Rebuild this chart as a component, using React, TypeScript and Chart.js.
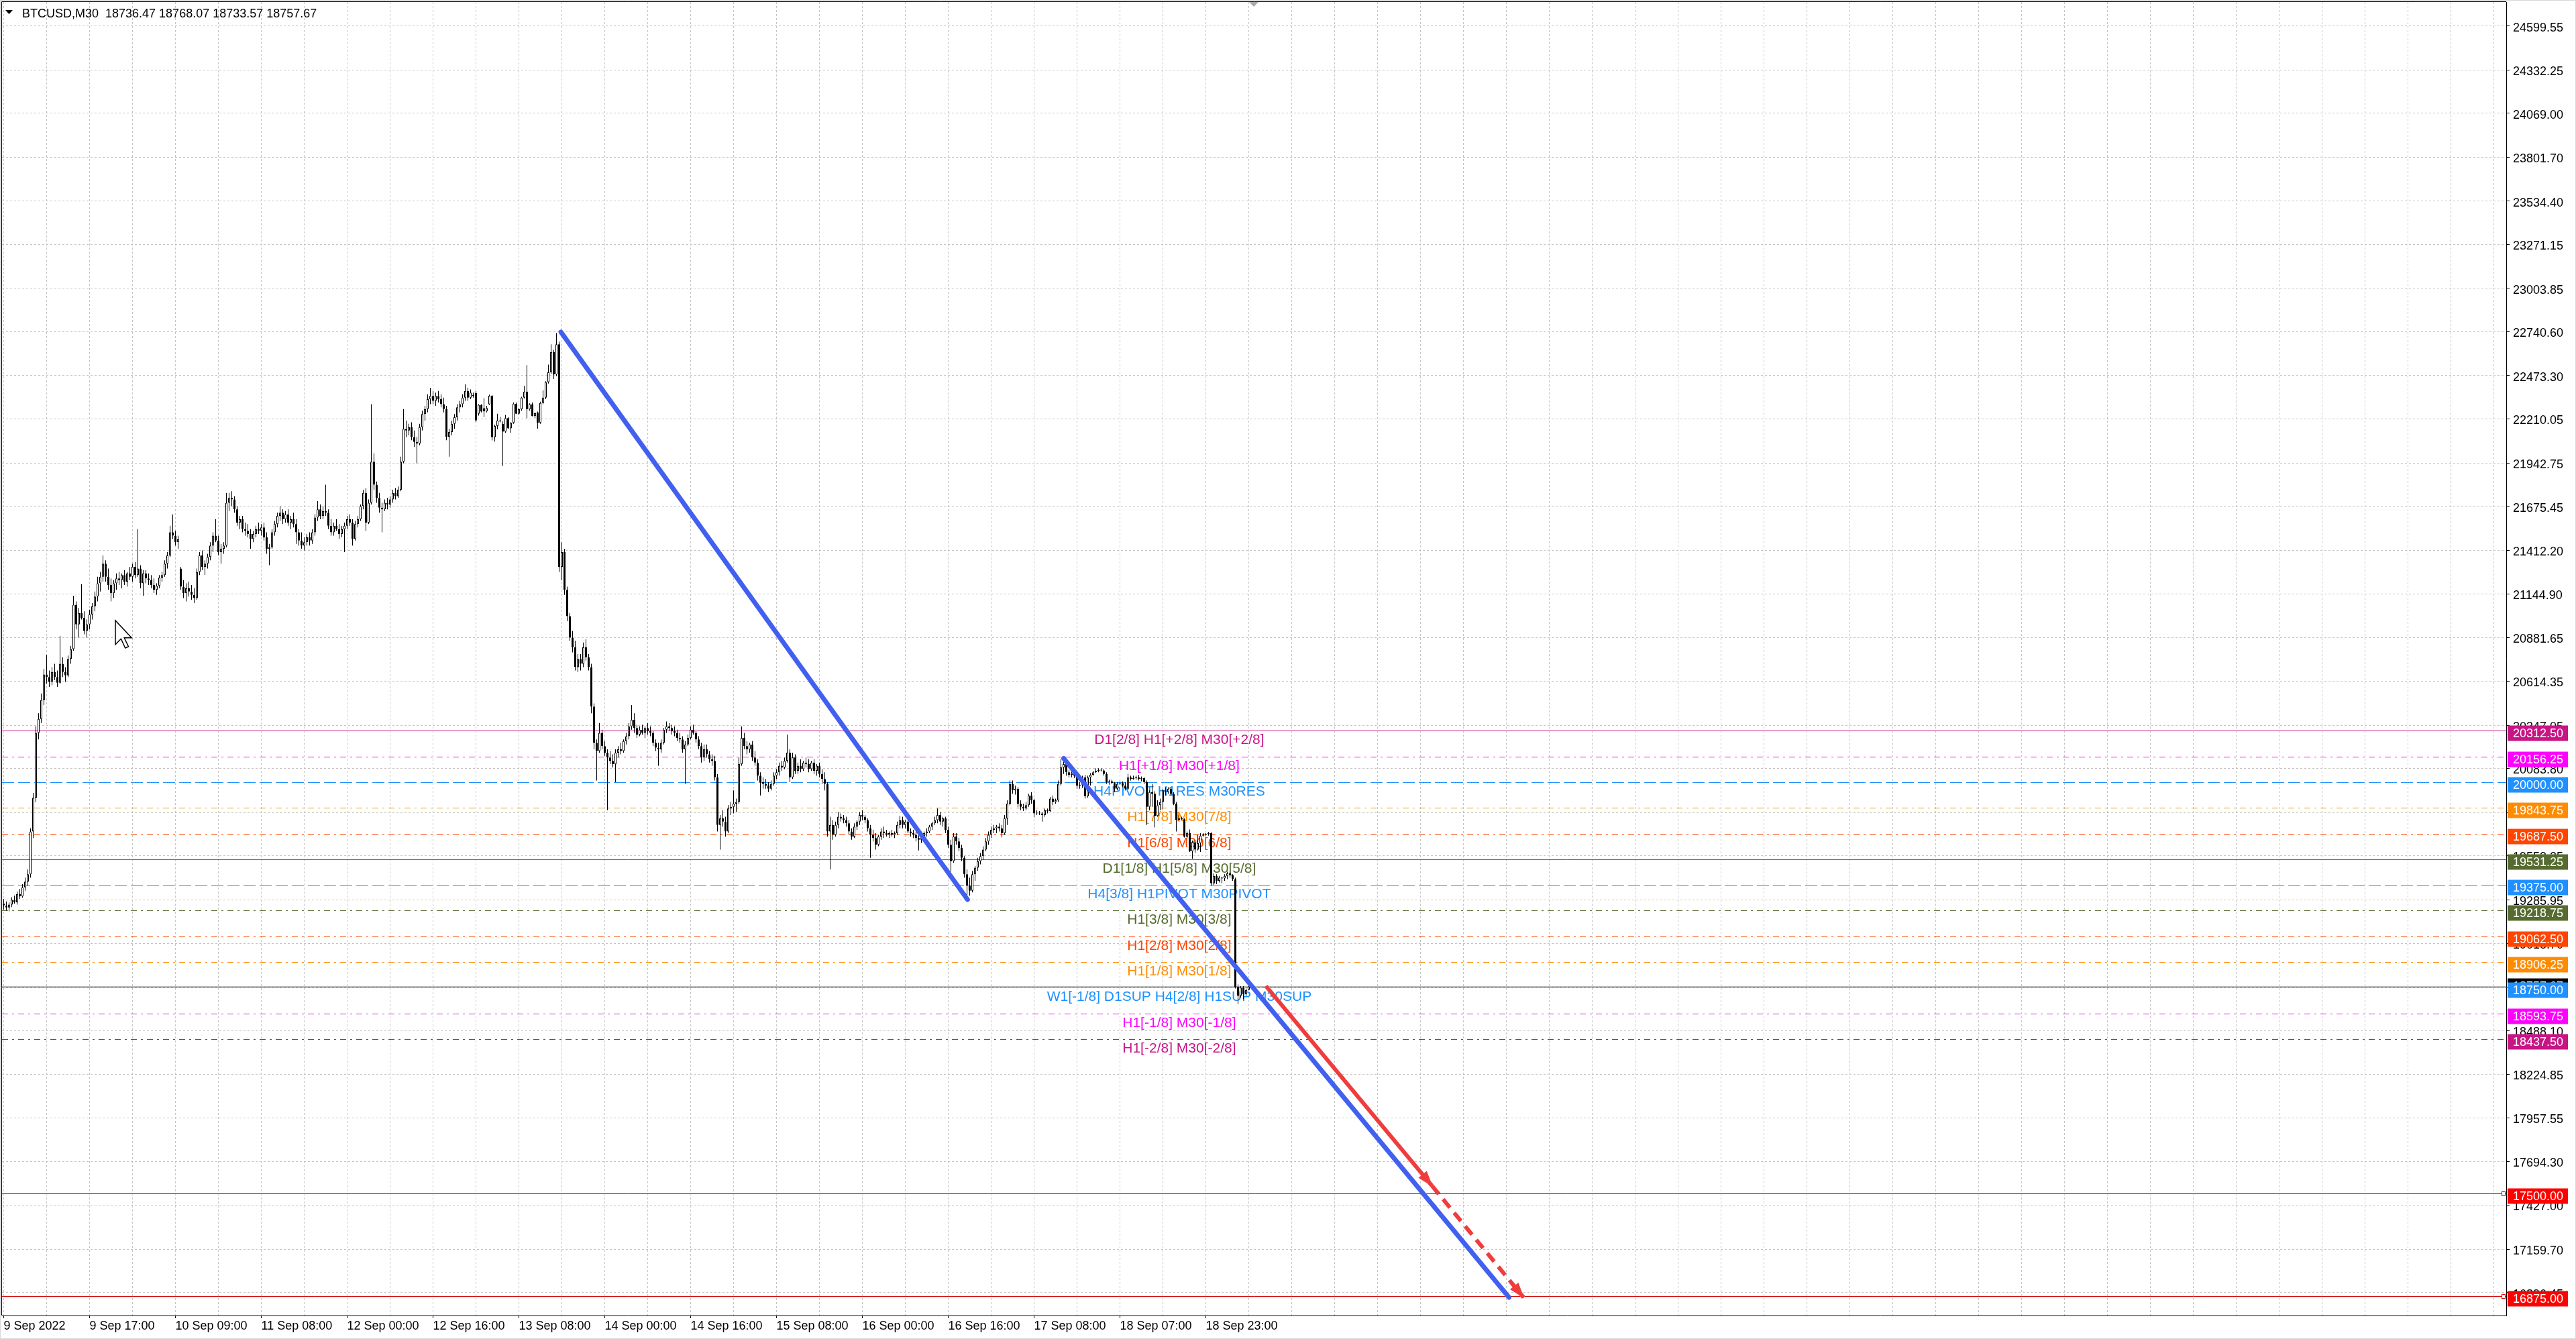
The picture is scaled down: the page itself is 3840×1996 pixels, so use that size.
import React, { useEffect, useRef } from 'react';
import { Chart, registerables } from 'chart.js';

Chart.register(...registerables);

// ---------- DATA (OHLC per M30 bar) ----------
const seg09Sep00 = [
  [19262,19290,19225,19250],[19250,19275,19220,19238],[19238,19268,19215,19255],[19255,19300,19240,19285],
  [19285,19310,19262,19270],[19270,19335,19255,19320],[19320,19350,19290,19305],[19305,19380,19298,19360],
  [19360,19420,19340,19395],[19395,19470,19370,19440],[19440,19720,19420,19700],[19700,19935,19660,19905],
  [19905,20340,19880,20300],[20300,20420,20260,20385],[20385,20540,20360,20500],[20500,20690,20470,20655],
  [20655,20775,20600,20640],[20640,20680,20580,20610],[20610,20700,20590,20670],[20670,20720,20620,20640],
  [20640,20680,20580,20605],[20605,20890,20600,20720],[20720,20760,20640,20670],[20670,20700,20610,20650],
  [20650,20770,20640,20750],[20750,20830,20720,20810],[20810,21135,20800,21080],[21080,21100,20930,20960],
  [20960,21060,20880,21030],[21030,21205,20990,21000],[21000,21040,20900,20920],[20920,20990,20880,20960],
];
const seg09Sep17 = [
  [20960,21050,20930,21020],[21020,21090,20990,21070],[21070,21160,21040,21130],[21130,21250,21100,21210],
  [21210,21280,21160,21250],[21250,21380,21220,21330],[21330,21350,21220,21250],[21250,21300,21170,21200],
  [21200,21240,21100,21150],[21150,21230,21120,21210],[21210,21270,21170,21240],[21240,21280,21200,21230],
  [21230,21270,21180,21260],[21260,21290,21200,21220],[21220,21280,21190,21270],[21270,21310,21230,21250],
  [21250,21330,21220,21310],[21310,21340,21240,21260],[21260,21540,21250,21300],[21300,21320,21180,21210],
  [21210,21290,21135,21270],[21270,21290,21210,21240],[21240,21270,21200,21230],[21230,21260,21180,21200],
  [21200,21240,21150,21170],[21170,21210,21140,21195],[21195,21260,21180,21245],[21245,21280,21220,21260],
  [21260,21350,21250,21330],[21330,21400,21300,21380],[21380,21560,21370,21520],[21520,21630,21480,21500],
];
const seg10Sep09 = [
  [21500,21530,21440,21460],[21460,21500,21420,21480],[21300,21310,21170,21190],[21190,21230,21120,21150],
  [21150,21210,21100,21180],[21180,21220,21130,21160],[21160,21200,21110,21140],[21140,21180,21090,21120],
  [21120,21300,21110,21280],[21280,21400,21260,21380],[21380,21410,21290,21310],[21310,21350,21260,21330],
  [21330,21390,21300,21370],[21370,21460,21350,21440],[21440,21520,21400,21500],[21500,21600,21460,21470],
  [21470,21500,21380,21400],[21400,21450,21330,21420],[21420,21460,21390,21440],[21440,21760,21430,21700],
  [21700,21760,21650,21730],[21730,21770,21680,21720],[21720,21740,21640,21660],[21660,21680,21560,21580],
  [21580,21620,21540,21600],[21600,21620,21520,21540],[21540,21580,21500,21530],[21530,21570,21490,21510],
  [21510,21540,21420,21480],[21480,21530,21460,21510],[21510,21560,21490,21540],[21540,21580,21510,21530],
];
const seg11Sep08 = [
  [21530,21570,21500,21550],[21550,21580,21470,21490],[21490,21520,21390,21420],[21420,21450,21320,21430],
  [21430,21540,21420,21520],[21520,21590,21500,21570],[21570,21640,21550,21620],[21620,21680,21590,21640],
  [21640,21660,21570,21600],[21600,21650,21580,21630],[21630,21660,21560,21580],[21580,21620,21540,21600],
  [21600,21640,21550,21570],[21570,21600,21450,21520],[21520,21540,21440,21470],[21470,21520,21420,21440],
  [21440,21490,21410,21460],[21460,21510,21440,21490],[21490,21520,21440,21470],[21470,21540,21450,21520],
  [21520,21630,21500,21610],[21610,21710,21590,21660],[21660,21690,21600,21620],[21620,21680,21600,21650],
  [21650,21810,21620,21640],[21640,21660,21540,21560],[21560,21600,21500,21520],[21520,21580,21500,21560],
  [21560,21600,21530,21540],[21540,21570,21480,21510],[21510,21560,21490,21540],[21540,21580,21400,21560],
];
const seg12Sep00 = [
  [21560,21620,21540,21600],[21600,21630,21560,21580],[21580,21600,21440,21480],[21480,21590,21470,21570],
  [21570,21620,21550,21600],[21600,21690,21590,21680],[21680,21780,21660,21760],[21760,21790,21530,21580],
  [21580,21720,21570,21700],[21700,22300,21690,21950],[21950,22000,21780,21810],[21810,21830,21700,21730],
  [21730,21760,21640,21670],[21670,21700,21520,21660],[21660,21720,21650,21700],[21700,21730,21660,21690],
  [21690,21740,21670,21720],[21720,21780,21700,21760],[21760,21790,21720,21740],[21740,21800,21730,21780],
  [21780,21980,21770,21950],[21950,22270,21940,22150],[22150,22200,22100,22140],[22140,22180,22110,22160],
  [22160,22190,22080,22100],[22100,22140,22040,22070],[22070,22100,21940,22060],[22060,22180,22050,22160],
  [22160,22260,22140,22240],[22240,22290,22200,22270],[22270,22360,22250,22330],[22330,22400,22300,22350],
];
const seg12Sep16 = [
  [22350,22380,22300,22320],[22320,22370,22290,22350],[22350,22380,22310,22330],[22330,22360,22280,22300],
  [22300,22340,22250,22270],[22270,22290,22080,22100],[22100,22150,21980,22130],[22130,22200,22110,22180],
  [22180,22240,22150,22220],[22220,22300,22200,22280],[22280,22320,22250,22300],[22300,22360,22280,22340],
  [22340,22420,22320,22380],[22380,22400,22320,22340],[22340,22390,22330,22370],[22355,22370,22340,22350],
  [22367,22380,22190,22201],[22242,22300,22230,22296],[22296,22300,22250,22255],[22275,22337,22221,22256],
  [22256,22290,22250,22276],[22299,22358,22295,22351],[22351,22355,22079,22099],[22099,22175,22072,22167],
  [22167,22242,22147,22201],[22201,22222,22190,22195],[22180,22195,21924,22133],[22133,22235,22125,22215],
  [22215,22220,22150,22153],[22153,22190,22126,22187],[22187,22310,22180,22303],[22303,22310,22240,22242],
];
const seg13Sep08 = [
  [22242,22275,22235,22269],[22269,22345,22260,22340],[22340,22412,22335,22376],[22376,22538,22214,22269],
  [22269,22305,22260,22300],[22300,22310,22225,22228],[22228,22250,22215,22245],[22249,22255,22151,22187],
  [22187,22315,22180,22307],[22307,22385,22300,22340],[22340,22440,22330,22435],[22435,22541,22425,22494],
  [22494,22664,22485,22616],[22616,22630,22453,22480],[22480,22732,22470,22664],[22664,22680,21280,21310],
  [21310,21460,21230,21400],[21400,21420,21140,21170],[21170,21190,20980,21010],[21010,21030,20860,20880],
  [20880,20920,20790,20820],[20820,20860,20680,20700],[20700,20780,20670,20750],[20750,20780,20680,20720],
  [20720,20850,20700,20820],[20820,20870,20740,20760],[20760,20780,20680,20700],[20700,20720,20420,20460],
  [20460,20480,20200,20240],[20240,20260,20010,20190],[20190,20360,20180,20300],[20300,20320,20200,20220],
];
const seg14Sep00 = [
  [20220,20250,20160,20180],[20180,20200,19830,20150],[20150,20190,20110,20130],[20130,20170,20090,20110],
  [20110,20200,20000,20180],[20180,20220,20150,20200],[20200,20240,20170,20190],[20190,20260,20180,20250],
  [20250,20300,20230,20280],[20280,20360,20260,20340],[20340,20470,20320,20380],[20380,20420,20300,20330],
  [20330,20350,20270,20290],[20290,20340,20280,20320],[20320,20350,20290,20300],[20300,20340,20270,20330],
  [20330,20360,20290,20310],[20310,20340,20280,20300],[20300,20310,20220,20240],[20240,20260,20190,20210],
  [20210,20240,20100,20200],[20200,20260,20180,20240],[20240,20330,20230,20320],[20320,20370,20300,20340],
  [20340,20360,20310,20330],[20330,20350,20290,20310],[20310,20340,20280,20300],[20300,20320,20250,20270],
  [20270,20300,20240,20260],[20260,20280,20180,20200],[20200,20250,19990,20230],[20230,20290,20220,20270],
];
const seg14Sep16 = [
  [20270,20340,20260,20320],[20320,20350,20290,20300],[20300,20310,20240,20260],[20260,20280,20200,20220],
  [20220,20240,20120,20150],[20150,20230,20130,20200],[20200,20230,20150,20170],[20170,20190,20120,20140],
  [20140,20170,20100,20130],[20130,20160,20010,20030],[20030,20050,19700,19740],[19740,19800,19590,19780],
  [19780,19830,19730,19760],[19760,19790,19670,19700],[19700,19860,19690,19840],[19840,19880,19800,19850],
  [19850,19950,19810,19870],[19870,19900,19820,19880],[19880,20150,19870,20110],[20110,20340,20100,20270],
  [20270,20300,20200,20220],[20220,20250,20170,20200],[20200,20240,20180,20230],[20230,20250,20130,20150],
  [20150,20190,20100,20120],[20120,20140,20010,20040],[20040,20060,19920,20000],[20000,20030,19960,19990],
  [19990,20020,19960,19980],[19980,20000,19940,19960],[19960,20010,19950,19990],[19990,20060,19980,20040],
];
const seg15Sep08 = [
  [20040,20080,20020,20060],[20060,20120,20040,20100],[20100,20130,20070,20090],[20090,20150,20080,20130],
  [20130,20290,20120,20180],[20180,20200,20000,20030],[20030,20180,20020,20150],[20150,20170,20050,20070],
  [20070,20120,20050,20100],[20100,20140,20060,20080],[20080,20130,20070,20120],[20120,20150,20090,20110],
  [20110,20140,20060,20080],[20080,20130,20070,20120],[20120,20140,20050,20070],[20070,20110,20040,20100],
  [20100,20120,20030,20050],[20050,20080,19990,20020],[20020,20060,19950,19990],[19990,20000,19670,19700],
  [19700,19790,19470,19740],[19740,19770,19650,19680],[19680,19760,19670,19740],[19740,19820,19720,19790],
  [19790,19810,19760,19780],[19780,19800,19750,19770],[19770,19790,19730,19750],[19750,19770,19680,19700],
  [19700,19720,19650,19670],[19670,19750,19660,19730],[19730,19770,19710,19760],[19760,19820,19740,19800],
];
const seg16Sep00 = [
  [19800,19830,19770,19790],[19790,19800,19750,19770],[19770,19780,19700,19720],[19720,19740,19540,19680],
  [19680,19710,19640,19660],[19660,19690,19590,19620],[19620,19680,19610,19670],[19670,19720,19650,19700],
  [19700,19730,19660,19690],[19690,19710,19670,19680],[19680,19700,19660,19690],[19690,19710,19670,19680],
  [19680,19700,19660,19690],[19690,19760,19680,19740],[19740,19795,19720,19770],[19770,19790,19720,19740],
  [19740,19770,19720,19760],[19760,19770,19690,19700],[19700,19720,19670,19690],[19690,19710,19660,19680],
  [19680,19700,19640,19660],[19660,19680,19585,19650],[19650,19690,19630,19670],[19670,19700,19650,19690],
  [19690,19720,19670,19700],[19700,19740,19690,19730],[19730,19760,19710,19750],[19750,19790,19740,19770],
  [19770,19840,19750,19800],[19800,19820,19740,19760],[19760,19790,19730,19780],[19780,19790,19690,19710],
];
const seg16Sep16 = [
  [19710,19730,19600,19620],[19620,19650,19455,19520],[19520,19690,19510,19670],[19670,19690,19620,19640],
  [19640,19660,19580,19600],[19600,19620,19520,19540],[19540,19550,19420,19440],[19440,19470,19300,19370],
  [19370,19420,19310,19340],[19340,19460,19330,19440],[19440,19490,19400,19480],[19480,19540,19460,19520],
  [19520,19570,19500,19550],[19550,19610,19530,19590],[19590,19660,19580,19640],[19640,19700,19620,19680],
  [19680,19730,19660,19710],[19710,19740,19690,19720],[19720,19740,19690,19730],[19730,19750,19700,19720],
  [19720,19740,19665,19690],[19690,19800,19680,19780],[19780,19890,19740,19870],[19870,20010,19860,19990],
  [19990,20010,19930,19950],[19950,19980,19925,19960],[19960,19970,19848,19870],[19870,19890,19830,19850],
  [19850,19870,19825,19840],[19840,19880,19830,19860],[19860,19930,19850,19920],[19920,19940,19870,19890],
];
const seg17Sep08 = [
  [19890,19900,19786,19810],[19810,19830,19800,19815],[19815,19825,19800,19810],[19810,19820,19760,19800],
  [19800,19840,19790,19830],[19830,19840,19810,19825],[19825,19910,19820,19900],[19900,19920,19860,19880],
  [19880,19900,19870,19890],[19890,20010,19880,19990],[19990,20140,19980,20090],[20090,20130,20050,20110],
  [20110,20120,20040,20060],[20060,20075,20030,20045],[20045,20070,20030,20055],[20055,20070,20025,20040],
  [20040,20050,19960,19980],[19980,20000,19960,19985],[19985,20040,19965,20030],[20030,20045,19900,19915],
  [19915,20040,19905,20030],[20030,20055,19980,20045],[20045,20070,20040,20060],[20060,20085,20055,20070],
  [20070,20085,20060,20075],[20075,20085,20065,20072],[20072,20080,20040,20050],[20050,20060,19990,20000],
  [20000,20015,19985,20005],[20005,20015,19990,19995],[19995,20000,19940,19960],[19960,20000,19950,19990],
];
const seg18Sep07 = [
  [19990,20005,19985,19995],[19995,20005,19970,19980],[19980,20000,19950,19960],[19960,20052,19955,20030],
  [20030,20040,20010,20020],[20020,20040,20015,20025],[20025,20040,20015,20030],[20030,20045,20010,20020],
  [20020,20035,20005,20025],[20025,20030,19990,20000],[20000,20010,19740,19850],[19850,19950,19830,19940],
  [19940,19990,19850,19930],[19930,19945,19725,19795],[19795,19890,19790,19860],[19860,19900,19830,19880],
  [19880,19960,19835,19950],[19950,19970,19920,19940],[19940,19970,19930,19960],[19960,19965,19920,19930],
  [19930,19940,19860,19870],[19870,19880,19700,19770],[19770,19800,19760,19780],[19780,19790,19770,19775],
  [19775,19780,19664,19670],[19670,19700,19660,19690],[19690,19712,19575,19580],[19580,19645,19535,19635],
  [19635,19650,19570,19590],[19590,19680,19585,19630],[19630,19690,19576,19675],[19675,19690,19670,19682],
];
const seg18Sep23 = [
  [19682,19690,19675,19685],[19685,19698,19675,19690],[19690,19695,19370,19385],[19385,19445,19375,19430],
  [19430,19440,19380,19400],[19400,19430,19390,19420],[19420,19425,19385,19415],[19415,19440,19400,19430],
  [19430,19455,19410,19445],[19445,19455,19420,19435],[19435,19440,19400,19410],[19410,19420,18745,18755],
  [18755,18770,18650,18700],[18700,18760,18690,18750],[18750,18760,18680,18710],[18710,18745,18700,18736],
  [18736.47,18768.07,18733.57,18757.67],
];

const SEGMENTS = [seg09Sep00, seg09Sep17, seg10Sep09, seg11Sep08, seg12Sep00, seg12Sep16, seg13Sep08,
  seg14Sep00, seg14Sep16, seg15Sep08, seg16Sep00, seg16Sep16, seg17Sep08, seg18Sep07, seg18Sep23];
const TIME_LABELS = ['9 Sep 2022', '9 Sep 17:00', '10 Sep 09:00', '11 Sep 08:00', '12 Sep 00:00', '12 Sep 16:00',
  '13 Sep 08:00', '14 Sep 00:00', '14 Sep 16:00', '15 Sep 08:00', '16 Sep 00:00', '16 Sep 16:00',
  '17 Sep 08:00', '18 Sep 07:00', '18 Sep 23:00'];

const PRICE_TICKS = [24599.55, 24332.25, 24069.00, 23801.70, 23534.40, 23271.15, 23003.85, 22740.60, 22473.30,
  22210.05, 21942.75, 21675.45, 21412.20, 21144.90, 20881.65, 20614.35, 20347.05, 20083.80, 19816.50,
  19553.25, 19285.95, 19018.70, 18755.40, 18488.10, 18224.85, 17957.55, 17694.30, 17427.00, 17159.70, 16896.45];

const LEVEL_PRICES = [20312.5, 20156.25, 20000, 19843.75, 19687.5, 19531.25, 19375, 19218.75, 19062.5,
  18906.25, 18750, 18593.75, 18437.5, 17500, 16875];
const LEVEL_TEXTS = ['D1[2/8] H1[+2/8] M30[+2/8]', 'H1[+1/8] M30[+1/8]', 'H4PIVOT H1RES M30RES',
  'H1[7/8] M30[7/8]', 'H1[6/8] M30[6/8]', 'D1[1/8] H1[5/8] M30[5/8]', 'H4[3/8] H1PIVOT M30PIVOT',
  'H1[3/8] M30[3/8]', 'H1[2/8] M30[2/8]', 'H1[1/8] M30[1/8]', 'W1[-1/8] D1SUP H4[2/8] H1SUP M30SUP',
  'H1[-1/8] M30[-1/8]', 'H1[-2/8] M30[-2/8]', '', ''];
const LEVEL_STYLES = ['solid', 'dashdot', 'dash', 'dashdot', 'dashdot', 'solid', 'dash', 'dashdot', 'dashdot',
  'dashdot', 'solid', 'dashdot', 'dashdot', 'solid', 'solid'];
const LEVEL_COLORS = ['#C71585', '#FF00FF', '#1E90FF', '#FF8C00', '#FF4500', '#556B2F', '#1E90FF', '#556B2F',
  '#FF4500', '#FF8C00', '#1E90FF', '#FF00FF', '#C71585', '#D40000', '#D40000'];
const BOX_COLORS = ['#C71585', '#FF00FF', '#1E90FF', '#FF8C00', '#FF4500', '#556B2F', '#1E90FF', '#556B2F',
  '#FF4500', '#FF8C00', '#1E90FF', '#FF00FF', '#C71585', '#FF0000', '#FF0000'];

const SYMBOL = 'BTCUSD,M30';

// trend lines: [bar index, price]
const BLUE_LINE_1 = [[207.65, 22739], [359.2, 19286]];
const BLUE_LINE_2 = [[395.0, 20145], [561.0, 16866]];
const RED_SOLID = [[470.4, 18760], [532.3, 17545]];
const RED_DASHED = [[532.3, 17545], [566.4, 16866]];

// ---------- LAYOUT / STYLE ----------
const W = 3840;
const H = 1996;
const X_MIN = -0.625;
const X_MAX = 932.625;
const Y_MIN = 16755.8;
const Y_MAX = 24746.4;
const LABEL_BAR = 438.1;
const UI_FONT = '"Liberation Sans", Arial, sans-serif';
const GRID = '#c4c4c4';
const BLUE = '#4160F0';
const RED = '#F03C3C';
const DASHES: Record<string, number[]> = { solid: [], dash: [18, 6], dashdot: [9, 6, 3, 6] };

export default function App() {
  const ref = useRef<HTMLCanvasElement>(null);

  useEffect(() => {
    document.body.style.margin = '0';
    document.body.style.overflow = 'hidden';
    const canvas = ref.current as HTMLCanvasElement;

    const candles: number[][] = [];
    const labelAt = new Map<number, string>();
    SEGMENTS.forEach((seg, i) => {
      labelAt.set(candles.length, TIME_LABELS[i]);
      seg.forEach((c) => candles.push(c));
    });
    const gridBars: number[] = [];
    for (let v = 0; v <= 928; v += 16) gridBars.push(v);
    const last = candles[candles.length - 1];
    const bid = last[3];

    const wickData = candles.map((c, i) => ({ x: i, y: [c[2], c[1]] }));
    const bodyData = candles.map((c, i) => ({ x: i, y: [Math.min(c[0], c[3]), Math.max(c[0], c[3])] }));
    const bodyColors = candles.map((c) => (c[3] >= c[0] ? '#ffffff' : '#000000'));
    const toPts = (arr: number[][]) => arr.map((p) => ({ x: p[0], y: p[1] }));

    const bgPlugin = {
      id: 'bg',
      beforeDraw(chart: any) {
        const { ctx } = chart;
        ctx.save();
        ctx.fillStyle = '#ffffff';
        ctx.fillRect(0, 0, W, H);
        ctx.restore();
      },
    };

    const levelPlugin = {
      id: 'levels',
      beforeDatasetsDraw(chart: any) {
        const { ctx, chartArea: a, scales } = chart;
        const y = scales.y;
        const x = scales.x;
        ctx.save();
        ctx.beginPath();
        ctx.rect(a.left, a.top, a.right - a.left, a.bottom - a.top);
        ctx.clip();
        ctx.lineWidth = 1;
        ctx.strokeStyle = '#b8b8b8';
        ctx.setLineDash([]);
        let py = Math.round(y.getPixelForValue(bid)) + 0.5;
        ctx.beginPath(); ctx.moveTo(a.left, py); ctx.lineTo(a.right, py); ctx.stroke();
        LEVEL_PRICES.forEach((p, i) => {
          py = Math.round(y.getPixelForValue(p)) + 0.5;
          ctx.strokeStyle = LEVEL_COLORS[i];
          ctx.setLineDash(DASHES[LEVEL_STYLES[i]]);
          ctx.beginPath(); ctx.moveTo(a.left, py); ctx.lineTo(a.right, py); ctx.stroke();
        });
        ctx.setLineDash([]);
        ctx.font = '21px ' + UI_FONT;
        ctx.textAlign = 'center';
        ctx.textBaseline = 'alphabetic';
        const tx = x.getPixelForValue(LABEL_BAR);
        LEVEL_TEXTS.forEach((t, i) => {
          if (!t) return;
          ctx.fillStyle = LEVEL_COLORS[i];
          ctx.fillText(t, tx, Math.round(y.getPixelForValue(LEVEL_PRICES[i])) + 19.5);
        });
        ctx.restore();
      },
    };

    const overlayPlugin = {
      id: 'overlay',
      afterDatasetsDraw(chart: any) {
        const { ctx, scales } = chart;
        const x = scales.x;
        const y = scales.y;
        const arrow = (seg: number[][]) => {
          const x1 = x.getPixelForValue(seg[0][0]);
          const y1 = y.getPixelForValue(seg[0][1]);
          const x2 = x.getPixelForValue(seg[1][0]);
          const y2 = y.getPixelForValue(seg[1][1]);
          const ang = Math.atan2(y2 - y1, x2 - x1);
          const len = 22;
          const half = 8;
          const bx = x2 - len * Math.cos(ang);
          const by = y2 - len * Math.sin(ang);
          ctx.save();
          ctx.fillStyle = RED;
          ctx.beginPath();
          ctx.moveTo(x2 + 2 * Math.cos(ang), y2 + 2 * Math.sin(ang));
          ctx.lineTo(bx + half * Math.sin(ang), by - half * Math.cos(ang));
          ctx.lineTo(bx - half * Math.sin(ang), by + half * Math.cos(ang));
          ctx.closePath();
          ctx.fill();
          ctx.restore();
        };
        arrow(RED_SOLID);
        arrow(RED_DASHED);
      },
      afterDraw(chart: any) {
        const { ctx, chartArea: a, scales } = chart;
        const y = scales.y;
        ctx.save();
        ctx.strokeStyle = '#000';
        ctx.lineWidth = 1;
        ctx.beginPath();
        ctx.moveTo(a.left - 0.5, a.bottom);
        ctx.lineTo(a.left - 0.5, a.top - 0.5);
        ctx.lineTo(a.right, a.top - 0.5);
        ctx.stroke();
        ctx.strokeStyle = '#d8d8d8';
        ctx.strokeRect(0.5, 0.5, W - 1, H - 1);

        [13, 14].forEach((i) => {
          const py = Math.round(y.getPixelForValue(LEVEL_PRICES[i])) + 0.5;
          ctx.fillStyle = '#fff';
          ctx.strokeStyle = LEVEL_COLORS[i];
          ctx.fillRect(a.right - 7, py - 3, 6, 6);
          ctx.strokeRect(a.right - 6.5, py - 3, 5, 6);
        });

        ctx.font = '18px ' + UI_FONT;
        ctx.textAlign = 'left';
        ctx.textBaseline = 'middle';
        const box = (price: number, color: string, off: number) => {
          const cy = Math.round(y.getPixelForValue(price)) + off;
          ctx.fillStyle = color;
          ctx.fillRect(a.right + 2, cy - 11.5, 90, 23);
          ctx.fillStyle = '#fff';
          ctx.fillText(price.toFixed(2), a.right + 10, cy + 1);
        };
        box(bid, '#000000', 0);
        LEVEL_PRICES.forEach((p, i) => box(p, BOX_COLORS[i], 4));

        ctx.fillStyle = '#000';
        ctx.beginPath();
        ctx.moveTo(8, 15); ctx.lineTo(19, 15); ctx.lineTo(13.5, 21); ctx.closePath(); ctx.fill();
        ctx.font = '18px ' + UI_FONT;
        ctx.textBaseline = 'alphabetic';
        ctx.textAlign = 'left';
        ctx.fillText(SYMBOL + '  ' + last.map((v) => v.toFixed(2)).join(' '), 33, 26);

        ctx.fillStyle = '#a8a8a8';
        ctx.beginPath();
        ctx.moveTo(1862, 3); ctx.lineTo(1876, 3); ctx.lineTo(1869, 10); ctx.closePath(); ctx.fill();

        const cx = 172, cy = 925, s = 2.1;
        const pts = [[0, 0], [0, 17], [4, 13], [7, 19.5], [9.3, 18.5], [6.3, 12.3], [11.5, 12.3]];
        ctx.beginPath();
        pts.forEach((p, i) => {
          const px = cx + p[0] * s, pyy = cy + p[1] * s;
          if (i === 0) ctx.moveTo(px, pyy); else ctx.lineTo(px, pyy);
        });
        ctx.closePath();
        ctx.fillStyle = '#fff';
        ctx.fill();
        ctx.strokeStyle = '#000';
        ctx.lineWidth = 1.5;
        ctx.stroke();
        ctx.restore();
      },
    };

    const chart = new Chart(canvas, {
      type: 'bar',
      data: {
        datasets: [
          { type: 'line', data: toPts(BLUE_LINE_1), borderColor: BLUE, borderWidth: 7, pointRadius: 0,
            borderCapStyle: 'round', order: 0 } as any,
          { type: 'line', data: toPts(BLUE_LINE_2), borderColor: BLUE, borderWidth: 7, pointRadius: 0,
            borderCapStyle: 'round', order: 0 } as any,
          { type: 'line', data: toPts(RED_SOLID), borderColor: RED, borderWidth: 6, pointRadius: 0,
            borderCapStyle: 'butt', order: 0 } as any,
          { type: 'line', data: toPts(RED_DASHED), borderColor: RED, borderWidth: 6, pointRadius: 0,
            borderDash: [16, 10], borderCapStyle: 'butt', order: 0 } as any,
          { type: 'bar', data: bodyData, backgroundColor: bodyColors, borderColor: '#000', borderWidth: 1,
            borderSkipped: false, barThickness: 3, grouped: false, minBarLength: 1, inflateAmount: 0, order: 1 } as any,
          { type: 'bar', data: wickData, backgroundColor: '#000', borderWidth: 0, barThickness: 1,
            grouped: false, minBarLength: 1, inflateAmount: 0, order: 2 } as any,
        ],
      },
      options: {
        animation: false,
        responsive: false,
        devicePixelRatio: 1,
        events: [],
        layout: { padding: { left: 3, top: 3, right: 0, bottom: 0 } },
        plugins: { legend: { display: false }, tooltip: { enabled: false } },
        scales: {
          x: {
            type: 'linear', position: 'bottom', min: X_MIN, max: X_MAX, offset: false,
            afterBuildTicks: (s: any) => { s.ticks = gridBars.map((v) => ({ value: v })); },
            afterFit: (s: any) => { s.height = 35; s.paddingLeft = 0; s.paddingRight = 0; },
            ticks: {
              autoSkip: false, maxRotation: 0, minRotation: 0, align: 'start', padding: 1, color: '#000',
              font: { family: UI_FONT, size: 18 },
              callback: (v: any) => labelAt.get(Number(v)) ?? '',
            },
            grid: {
              color: GRID, lineWidth: 1, offset: false, drawTicks: true, tickLength: 4, tickWidth: 1,
              tickColor: (c: any) => (c.tick && labelAt.has(c.tick.value) ? '#000' : 'rgba(0,0,0,0)'),
            },
            border: { display: true, color: '#000', width: 1, dash: [3, 3] },
          },
          y: {
            type: 'linear', position: 'right', min: Y_MIN, max: Y_MAX,
            afterBuildTicks: (s: any) => { s.ticks = PRICE_TICKS.map((v) => ({ value: v })); },
            afterFit: (s: any) => { s.width = 104; s.paddingTop = 0; s.paddingBottom = 0; },
            ticks: {
              autoSkip: false, padding: 5, labelOffset: 3, color: '#000', font: { family: UI_FONT, size: 18 },
              callback: (v: any) => Number(v).toFixed(2),
            },
            grid: { color: GRID, lineWidth: 1, drawTicks: true, tickLength: 5, tickWidth: 1, tickColor: '#000' },
            border: { display: true, color: '#000', width: 1, dash: [3, 3] },
          },
        },
      } as any,
      plugins: [bgPlugin, levelPlugin, overlayPlugin],
    });

    return () => chart.destroy();
  }, []);

  return (
    <canvas ref={ref} width={W} height={H} style={{ display: 'block', width: W + 'px', height: H + 'px' }} />
  );
}
